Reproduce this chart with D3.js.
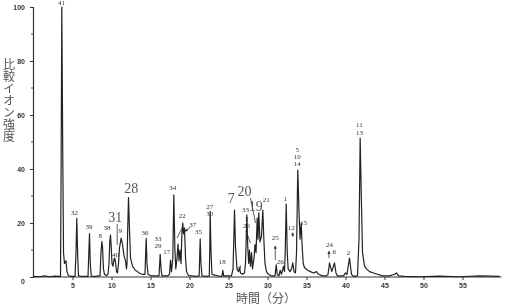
<!DOCTYPE html>
<html>
<head>
<meta charset="utf-8">
<script src="https://cdn.jsdelivr.net/npm/d3@7"></script>
<style>
  body { margin: 0; background: #fff; }
  svg { display: block; will-change: transform; }
  .tick text { font-family: "Liberation Sans", Arial, sans-serif; font-weight: bold; font-size: 7px; fill: #333; }
  .pk { font-family: "Liberation Serif", "Times New Roman", serif; font-size: 7px; fill: #333; }
  .pk-big { font-family: "Liberation Serif", "Times New Roman", serif; font-size: 14px; fill: #555; }
</style>
</head>
<body>
<div id="chart"></div>
<script>
// Data: chromatogram trace (time in min, relative intensity)
const traceTime = [
  0, 0.77, 1.41, 2.05, 2.69, 3.33,
  3.46, 3.54, 3.63, 3.74, 3.85, 3.97, 4.17, 4.29, 4.49, 4.87,
  5.32, 5.45, 5.55, 5.67, 5.77, 6.15,
  6.99, 7.09, 7.18, 7.28, 7.41, 7.95,
  8.53, 8.65, 8.76, 8.85, 8.97, 9.10, 9.36, 9.55,
  9.68, 9.78, 9.87, 9.97, 10.06,
  10.19, 10.32, 10.42, 10.54, 10.64, 10.77,
  10.90, 11.03, 11.24, 11.41, 11.60, 11.79, 11.92,
  11.99, 12.09, 12.18, 12.31, 12.44, 12.69, 13.08, 13.33, 13.59, 13.97,
  14.29, 14.38, 14.45, 14.55, 14.68, 15.13,
  16.09, 16.18, 16.24, 16.35, 16.47, 17.18,
  17.44, 17.56, 17.69,
  17.86, 17.99, 18.12, 18.24,
  18.40, 18.53, 18.65, 18.78, 18.91, 19.04, 19.14, 19.23, 19.36, 19.49, 19.62, 19.87, 20.90,
  21.24, 21.32, 21.37, 21.47, 21.60, 22.31,
  22.54, 22.60, 22.65, 22.76, 22.88, 23.97,
  24.17, 24.27, 24.38, 25.38,
  25.58, 25.68, 25.77, 25.90, 26.09, 26.28, 26.41, 26.54, 26.79, 27.05,
  27.18, 27.27, 27.35, 27.47, 27.59, 27.69, 27.82, 27.95, 28.08, 28.27, 28.40, 28.53,
  28.68, 28.78, 28.88, 29.04, 29.23, 29.40, 29.53, 29.68, 29.87, 30.13, 30.51,
  30.96, 31.12, 31.24, 31.47, 31.63, 31.79, 32.05, 32.18, 32.27, 32.40, 32.53, 32.65,
  32.88, 33.08, 33.24, 33.40, 33.59, 33.72, 33.88, 34.04, 34.17, 34.32, 34.45, 34.58,
  34.74, 35.13, 35.51, 35.90, 36.28, 36.54, 37.05, 37.56,
  37.76, 37.95, 38.24, 38.59, 38.78, 38.97, 39.74, 40.00, 40.19, 40.51, 40.77, 41.03, 41.54,
  41.73, 41.88, 42.03, 42.18, 42.44, 42.69, 43.08, 43.59, 44.10, 44.74, 45.64, 46.28,
  46.54, 46.79, 47.56, 49.49, 52.05, 54.62, 57.18, 59.74
];
const traceValue = [
  0.2, 0.1, 0.4, 0.1, 0.3, 0.2,
  0.2, 39.5, 100, 49.6, 9, 5, 6, 2, 0.4, 0.2,
  0.2, 9, 21.7, 7, 0.5, 0.2,
  0.2, 9, 16.1, 5, 0.3, 0.2,
  0.5, 9, 13.1, 11.1, 3, 1, 0.5, 1,
  5, 13, 15.5, 11, 5,
  4, 6.5, 7, 5, 2, 1.5,
  5, 11, 14.4, 12.1, 8, 6, 3,
  5, 19.2, 29.4, 17.2, 7, 4, 2.4, 2, 1.4, 1,
  1, 9, 14.3, 5, 1, 0.4,
  0.4, 5, 8.4, 3, 0.4, 0.4,
  1, 6.3, 2,
  7, 30.4, 11, 3,
  7, 12.2, 6, 10, 5, 17, 20, 16, 18.2, 7, 2, 0.5, 0.2,
  0.4, 9, 14.1, 5, 0.4, 0.2,
  0.4, 11, 24.3, 9, 1, 0.2,
  0.4, 2.5, 0.4, 0.4,
  3, 14, 24.8, 11, 3, 2, 3.4, 1.5, 1, 1.5,
  5, 14, 23, 11, 5, 10, 4, 9, 3, 7, 12, 9,
  21.8, 14, 23.8, 13, 15.1, 24.8, 14, 5, 2, 1, 0.4,
  0.4, 4.5, 1, 0.4, 2.5, 1, 3.9, 2, 9, 27, 9, 3,
  2, 3, 5.2, 2, 1.5, 9, 39.6, 24.3, 14, 20, 11, 5,
  3.5, 2.5, 2, 1.5, 2, 1, 0.4, 0.4,
  1, 5.2, 2, 5.2, 1.5, 0.4, 0.4, 1.5, 1, 7, 1, 0.2, 0.4,
  14, 51.4, 29.3, 9, 4, 3, 2, 1.5, 1, 0.4, 0.4, 1,
  1.5, 0.4, 0.2, 0.1, 0.3, 0.1, 0.4, 0.2
];

// Peak labels (small)
const labelText  = ["41", "32", "39", "8", "38", "40", "9", "36", "33", "29", "17", "34", "22", "37",
  "35", "27", "30", "18", "4", "33", "3", "26", "21", "25", "26", "1", "12", "5", "10", "14",
  "15", "24", "6", "2", "11", "13"];
const labelTime  = [3.59, 5.26, 7.12, 8.55, 9.42, 10.55, 11.12, 14.29, 15.96, 15.96, 17.09, 17.86, 19.06, 20.42,
  21.15, 22.60, 22.60, 24.19, 26.41, 27.18, 27.31, 27.31, 29.85, 30.99, 31.63, 32.27, 33.04, 33.81, 33.81, 33.81,
  34.65, 37.95, 38.55, 40.38, 41.79, 41.79];
const labelLevel = [100.6, 23.0, 17.6, 14.3, 17.4, 7.4, 16.3, 15.6, 13.3, 10.6, 8.5, 32.2, 21.7, 18.5,
  16.1, 25.2, 22.5, 4.8, 3.1, 23.9, 20.7, 18.0, 27.8, 13.7, 4.8, 28.0, 17.5, 46.3, 43.7, 41.1,
  19.3, 11.0, 8.6, 8.3, 55.4, 52.6];

// Peak labels (large)
const bigText  = ["28", "31", "7", "20", "19"];
const bigTime  = [12.53, 10.47, 25.35, 27.05, 28.5];
const bigLevel = [31.1, 20.2, 27.4, 30.0, 24.4];

// Leader lines: from / to in (time, intensity), arrow flag
const leaderFrom  = [[10.73, 19.6], [19.04, 18.1], [20.13, 18.5], [27.24, 17.0], [27.82, 29.3], [30.99, 6.3], [33.17, 16.5], [37.88, 7.0]];
const leaderTo    = [[10.73, 11.9], [18.40, 14.4], [19.42, 16.9], [27.82, 12.6], [28.46, 20.0], [30.99, 11.5], [33.27, 15.0], [37.88, 9.6]];
const leaderArrow = [false, false, true, false, false, true, true, true];

const xTicks = [5, 10, 15, 20, 25, 30, 35, 40, 45, 50, 55];
const yTicks = [0, 20, 40, 60, 80, 100];
const yMinor = [10, 30, 50, 70, 90];

const W = 508, H = 305;
const svg = d3.select("#chart").append("svg").attr("width", W).attr("height", H);

const x = d3.scaleLinear().domain([0, 60]).range([33.5, 501.5]);
const y = d3.scaleLinear().domain([0, 100]).range([277, 7]);

svg.append("defs").append("marker")
  .attr("id", "arr").attr("viewBox", "0 0 10 10").attr("refX", 9).attr("refY", 5)
  .attr("markerWidth", 4).attr("markerHeight", 4).attr("orient", "auto-start-reverse")
  .append("path").attr("d", "M0,0L10,5L0,10z").attr("fill", "#333");

// axes
const gx = svg.append("g").attr("transform", `translate(0,${y(0)})`)
  .call(d3.axisBottom(x).tickValues(xTicks).tickSize(3).tickPadding(3));
gx.select(".domain").attr("stroke", "#333").attr("d", `M${x(0)},0H${x(60)}`);
gx.selectAll(".tick line").attr("stroke", "#333");

const gy = svg.append("g").attr("transform", `translate(${x(0) - 0.5},0)`)
  .call(d3.axisLeft(y).tickValues(yTicks).tickSize(3).tickPadding(5));
gy.select(".domain").attr("stroke", "#333").attr("stroke-width", 1.2);
gy.selectAll(".tick line").attr("stroke", "#333");
gy.selectAll(".tick text").attr("dy", d => d === 0 ? "0.95em" : "0.32em");

svg.append("g").selectAll("line").data(yMinor).join("line")
  .attr("x1", x(0) - 2.5).attr("x2", x(0) - 0.5)
  .attr("y1", d => y(d)).attr("y2", d => y(d))
  .attr("stroke", "#555");

// trace
const pts = traceTime.map((t, i) => [t, traceValue[i]]);
svg.append("path")
  .datum(pts)
  .attr("fill", "none").attr("stroke", "#222").attr("stroke-width", 1.2)
  .attr("stroke-linejoin", "round")
  .attr("d", d3.line().x(d => x(d[0])).y(d => y(d[1])));

// leader lines
svg.append("g").selectAll("line").data(leaderFrom).join("line")
  .attr("x1", d => x(d[0])).attr("y1", d => y(d[1]))
  .attr("x2", (d, i) => x(leaderTo[i][0])).attr("y2", (d, i) => y(leaderTo[i][1]))
  .attr("stroke", "#333").attr("stroke-width", 0.8)
  .attr("marker-end", (d, i) => leaderArrow[i] ? "url(#arr)" : null);

// labels
svg.append("g").selectAll("text").data(labelText).join("text")
  .attr("class", "pk").attr("text-anchor", "middle")
  .attr("x", (d, i) => x(labelTime[i])).attr("y", (d, i) => y(labelLevel[i]))
  .text(d => d);

svg.append("g").selectAll("text").data(bigText).join("text")
  .attr("class", "pk-big").attr("text-anchor", "middle")
  .attr("x", (d, i) => x(bigTime[i])).attr("y", (d, i) => y(bigLevel[i]))
  .text(d => d);

// axis titles
svg.append("text")
  .attr("x", 9).attr("y", 58)
  .attr("writing-mode", "tb")
  .style("text-orientation", "upright")
  .attr("font-family", "'Noto Sans CJK JP', sans-serif").attr("font-size", 12).attr("fill", "#555")
  .text("比較イオン強度");

svg.append("text")
  .attr("x", 266).attr("y", 303)
  .attr("text-anchor", "middle")
  .attr("font-family", "'Noto Sans CJK JP', sans-serif").attr("font-size", 12).attr("fill", "#555")
  .text("時間（分）");
</script>
</body>
</html>
